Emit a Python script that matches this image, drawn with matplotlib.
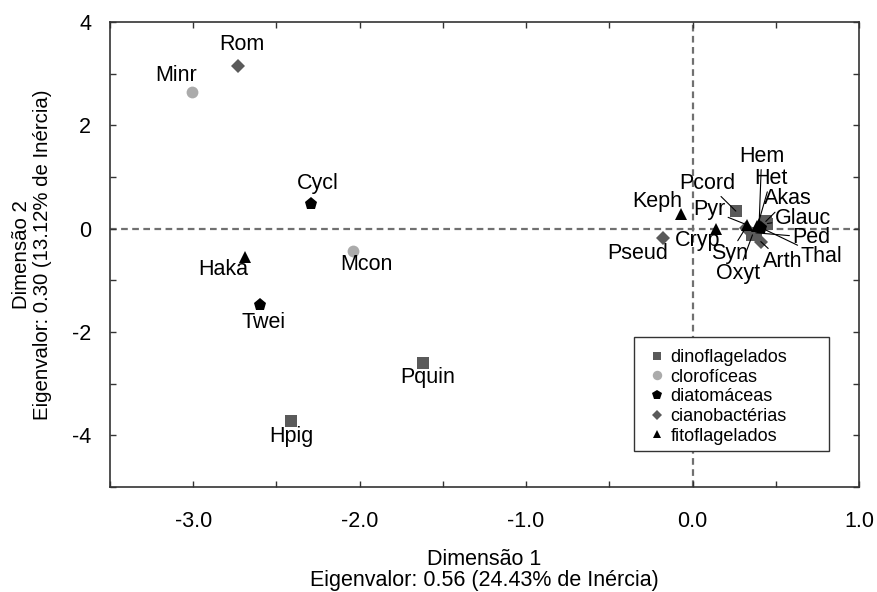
import matplotlib
matplotlib.use("Agg")
import matplotlib.pyplot as plt
from matplotlib.ticker import MultipleLocator, FixedLocator
from matplotlib.patches import Rectangle

plt.rcParams['font.family'] = ['Liberation Sans', 'DejaVu Sans']

# ---- data ----
groups = ["dinoflagelados", "clorofíceas", "diatomáceas", "cianobactérias", "fitoflagelados"]

names = ["Minr", "Rom", "Cycl", "Mcon", "Haka", "Twei", "Hpig", "Pquin",
         "Keph", "Pseud", "Cryp", "Pcord", "Pyr", "Syn", "Hem", "Thal",
         "Akas", "Glauc", "Oxyt", "Ped", "Het", "Arth"]
dim1 = [-3.01, -2.73, -2.29, -2.04, -2.69, -2.60, -2.41, -1.62,
        -0.07, -0.18, 0.14, 0.26, 0.33, 0.32, 0.40, 0.41,
        0.44, 0.45, 0.36, 0.38, 0.39, 0.41]
dim2 = [2.65, 3.15, 0.47, -0.43, -0.55, -1.47, -3.72, -2.60,
        0.29, -0.18, 0.00, 0.34, 0.07, 0.02, 0.10, 0.02,
        0.14, 0.10, -0.12, -0.08, 0.05, -0.25]
group = ["clorofíceas", "cianobactérias", "diatomáceas", "clorofíceas", "fitoflagelados",
         "diatomáceas", "dinoflagelados", "dinoflagelados",
         "fitoflagelados", "cianobactérias", "fitoflagelados", "dinoflagelados",
         "fitoflagelados", "cianobactérias", "fitoflagelados", "diatomáceas",
         "dinoflagelados", "dinoflagelados", "dinoflagelados", "dinoflagelados",
         "fitoflagelados", "cianobactérias"]
# label positions (text centres)
lab_x = [-3.10, -2.71, -2.25, -1.96, -2.82, -2.575, -2.41, -1.59,
         -0.21, -0.33, 0.03, 0.09, 0.10, 0.222, 0.415, 0.773,
         0.575, 0.662, 0.274, 0.713, 0.472, 0.54]
lab_y = [2.97, 3.57, 0.87, -0.70, -0.80, -1.82, -4.03, -2.89,
         0.53, -0.49, -0.22, 0.88, 0.365, -0.49, 1.40, -0.54,
         0.575, 0.205, -0.865, -0.17, 0.97, -0.64]
leader = [False, False, False, False, False, False, False, False,
          False, False, False, True, True, True, True, True,
          True, True, True, True, True, True]

style = {
    "dinoflagelados": dict(marker="s", color="#5a5a5a", ms=8),
    "clorofíceas": dict(marker="o", color="#ababab", ms=8.5),
    "diatomáceas": dict(marker="p", color="#000000", ms=9.5),
    "cianobactérias": dict(marker="D", color="#5a5a5a", ms=7),
    "fitoflagelados": dict(marker="^", color="#000000", ms=8),
}

FS = 15.5

fig = plt.figure(figsize=(8.77, 5.92), dpi=100)
ax = fig.add_axes([0.1254, 0.1774, 0.8541, 0.7854])

ax.axhline(0, color="#707070", lw=1.6, ls=(0, (3, 2)), zorder=1)
ax.axvline(0, color="#707070", lw=1.6, ls=(0, (3, 2)), zorder=1)

for g in groups:
    xs = [x for x, gg in zip(dim1, group) if gg == g]
    ys = [y for y, gg in zip(dim2, group) if gg == g]
    s = style[g]
    ax.plot(xs, ys, ls="none", marker=s["marker"], color=s["color"],
            markersize=s["ms"], markeredgewidth=0, label=g, zorder=3)

for n, x, y, tx, ty, ld in zip(names, dim1, dim2, lab_x, lab_y, leader):
    if ld:
        ax.annotate(n, xy=(x, y), xytext=(tx, ty), ha="center", va="center",
                    fontsize=FS, zorder=4,
                    arrowprops=dict(arrowstyle="-", color="black", lw=0.8,
                                    shrinkA=0, shrinkB=0))
    else:
        ax.text(tx, ty, n, ha="center", va="center", fontsize=FS, zorder=4)

ax.set_xlim(-3.5, 1.0)
ax.set_ylim(-5, 4)
ax.xaxis.set_major_locator(FixedLocator([-3, -2, -1, 0, 1]))
ax.xaxis.set_minor_locator(MultipleLocator(0.5))
ax.yaxis.set_major_locator(FixedLocator([-4, -2, 0, 2, 4]))
ax.yaxis.set_minor_locator(MultipleLocator(1))
ax.set_xticklabels(["-3.0", "-2.0", "-1.0", "0.0", "1.0"])
ax.set_yticklabels(["-4", "-2", "0", "2", "4"])
ax.tick_params(which="both", direction="in", top=True, right=True,
               length=4, width=1, color="#333333", labelsize=FS)
ax.tick_params(axis="x", pad=17)
ax.tick_params(axis="y", pad=13.5)
for sp in ax.spines.values():
    sp.set_color("#333333")
    sp.set_linewidth(1.2)

ax.set_xlabel("Dimensão 1\nEigenvalor: 0.56 (24.43% de Inércia)", fontsize=FS,
              linespacing=1.0)
ax.set_ylabel("Dimensão 2\nEigenvalor: 0.30 (13.12% de Inércia)", fontsize=14.7,
              linespacing=1.08)
ax.xaxis.set_label_coords(0.5, -0.134)
ax.yaxis.set_label_coords(-0.078, 0.50)

# legend frame
ax.add_patch(Rectangle((0.6996, 0.0774), 0.2604, 0.2452, transform=ax.transAxes,
                       facecolor="white", edgecolor="#333333", lw=1.0, zorder=5))
leg = ax.legend(loc="upper left", bbox_to_anchor=(0.7147, 0.2968), frameon=False,
                fontsize=13, handletextpad=0.1, handlelength=1.3, borderpad=0,
                labelspacing=0.146, markerscale=0.8, borderaxespad=0)
leg.set_zorder(6)

fig.savefig("out.png", dpi=100)
